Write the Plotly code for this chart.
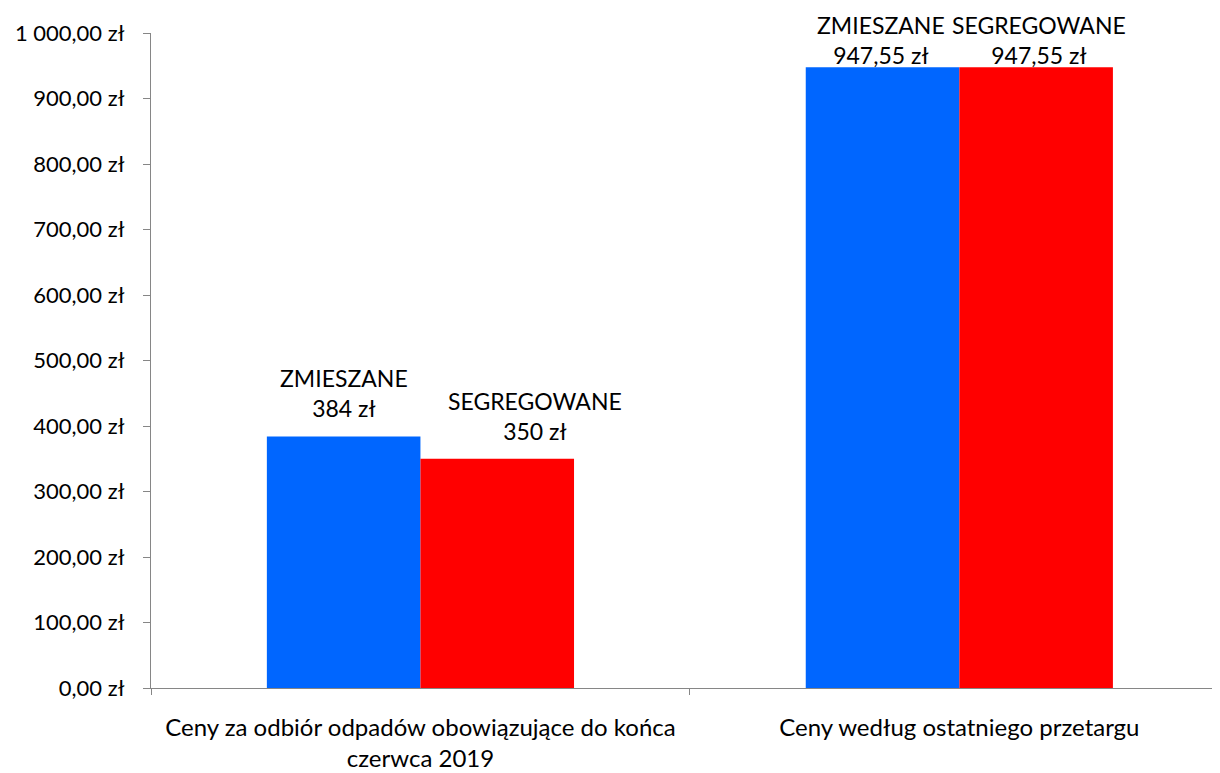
import plotly.graph_objects as go

categories = ["Ceny za odbiór odpadów obowiązujące do końca<br>czerwca 2019",
              "Ceny według ostatniego przetargu"]
series_names = ["ZMIESZANE", "SEGREGOWANE"]
zmieszane = [384, 947.55]
segregowane = [350, 947.55]
value_labels_z = ["384 zł", "947,55 zł"]
value_labels_s = ["350 zł", "947,55 zł"]
tick_vals = [0, 100, 200, 300, 400, 500, 600, 700, 800, 900, 1000]
tick_text = ["0,00 zł", "100,00 zł", "200,00 zł", "300,00 zł", "400,00 zł", "500,00 zł",
             "600,00 zł", "700,00 zł", "800,00 zł", "900,00 zł", "1 000,00 zł"]

FONT = "Lato"
fig = go.Figure()
fig.add_trace(go.Bar(x=categories, y=zmieszane, name=series_names[0],
                     marker=dict(color="#0066FF", line=dict(width=0))))
fig.add_trace(go.Bar(x=categories, y=segregowane, name=series_names[1],
                     marker=dict(color="#FF0000", line=dict(width=0))))

half = 76.9
extra_shift = [[0, -1], [38, 3]]  # per-series, per-category label nudges
yshifts = [[12, -4], [12, -4]]
for si, (vals, labs) in enumerate([(zmieszane, value_labels_z), (segregowane, value_labels_s)]):
    for ci, cat in enumerate(categories):
        fig.add_annotation(x=cat, y=vals[ci], xref="x", yref="y",
                           text=f"{series_names[si]}<br>{labs[ci]}",
                           showarrow=False, yanchor="bottom",
                           xshift=(-half if si == 0 else half) + extra_shift[si][ci],
                           yshift=yshifts[si][ci],
                           font=dict(family=FONT, size=23, color="#000000"))

# page body has an 8px margin, so the figure is sized 8px smaller and margins adjusted
fig.update_layout(
    width=1212, height=765,
    margin=dict(l=143, r=2, t=25, b=85),
    paper_bgcolor="white", plot_bgcolor="white",
    barmode="group", bargap=0.43, bargroupgap=0,
    showlegend=False,
    font=dict(family=FONT, size=20, color="#000000"),
)
# the original chart's plot area runs slightly past the right edge of the picture
fig.update_xaxes(range=[-0.5, 1.48], showline=True, linecolor="#868686", linewidth=1.3,
                 automargin=False, tickangle=0,
                 ticks="outside", tickson="boundaries", ticklen=6, tickcolor="#868686",
                 ticklabelstandoff=18,
                 showgrid=False, tickfont=dict(family=FONT, size=24, color="#000000"))
fig.update_yaxes(range=[0, 1000], tickvals=tick_vals, ticktext=tick_text, automargin=False,
                 showline=True, linecolor="#868686", linewidth=1.3,
                 ticks="outside", ticklen=7, tickcolor="#868686",
                 ticklabelstandoff=14,
                 showgrid=False, zeroline=False,
                 tickfont=dict(family=FONT, size=22, color="#000000"))
fig.write_html("out.html")
